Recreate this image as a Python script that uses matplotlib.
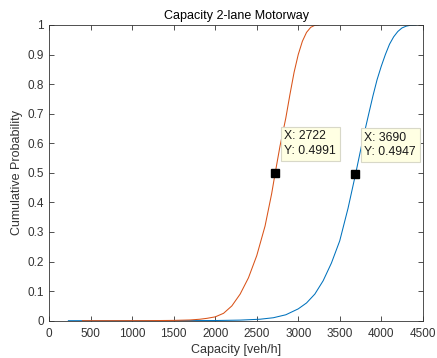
import matplotlib
matplotlib.use("Agg")
import matplotlib.pyplot as plt

# Cumulative capacity distribution, 2-lane motorway (red curve)
red_x = [400, 800, 1200, 1500, 1700, 1816, 1900, 2000, 2100, 2200, 2300, 2400,
         2500, 2600, 2680, 2722, 2780, 2850, 2900, 2950, 3000, 3050, 3100,
         3150, 3200, 3250]
red_y = [0.0, 0.0, 0.0002, 0.001, 0.0025, 0.005, 0.008, 0.013, 0.025, 0.05,
         0.09, 0.145, 0.22, 0.32, 0.43, 0.4991, 0.59, 0.685, 0.765, 0.84,
         0.90, 0.945, 0.975, 0.992, 0.999, 1.0]

# Cumulative capacity distribution (blue curve)
blue_x = [230, 800, 1500, 2000, 2300, 2540, 2700, 2850, 3000, 3100, 3200, 3300,
          3400, 3500, 3600, 3690, 3780, 3850, 3900, 3950, 4000, 4050, 4100,
          4150, 4200, 4250, 4300, 4350, 4420]
blue_y = [0.0, 0.0, 0.0001, 0.0006, 0.002, 0.005, 0.01, 0.02, 0.04, 0.06, 0.09,
          0.135, 0.195, 0.27, 0.38, 0.4947, 0.615, 0.70, 0.76, 0.815, 0.86,
          0.90, 0.935, 0.96, 0.978, 0.99, 0.996, 0.999, 1.0]

# Data tips (x, y)
tips = [(2722, 0.4991), (3690, 0.4947)]

x_ticks = list(range(0, 4501, 500))
y_ticks = [i / 10 for i in range(11)]
y_tick_labels = ["0", "0.1", "0.2", "0.3", "0.4", "0.5", "0.6", "0.7", "0.8", "0.9", "1"]

plt.rcParams["font.family"] = ["Liberation Sans", "DejaVu Sans"]
axis_col = "#333333"

fig = plt.figure(figsize=(4.37, 3.58), dpi=100)
ax = fig.add_axes([0.1128, 0.1042, 0.8545, 0.8260])

ax.plot(blue_x, blue_y, color="#0072BD", lw=0.75)
ax.plot(red_x, red_y, color="#D95319", lw=0.75)

for tx, ty in tips:
    ax.plot([tx], [ty], marker="s", color="black", markersize=5.8, linestyle="none")
    ax.annotate(f"X: {tx}\nY: {ty:.4f}", xy=(tx, ty), xytext=(9, 16),
                textcoords="offset pixels", ha="left", va="bottom",
                fontsize=8.8, color="#1a1a1a", linespacing=1.3,
                bbox=dict(boxstyle="square,pad=0.3", fc="#FFFFE3", ec="#d8d8c8", lw=0.8))

ax.set_xlim(0, 4500)
ax.set_ylim(0, 1)
ax.set_xticks(x_ticks)
ax.set_yticks(y_ticks)
ax.set_yticklabels(y_tick_labels)
ax.tick_params(direction="in", length=3.5, width=0.6, colors=axis_col,
               labelsize=8.5, top=True, right=True)
ax.tick_params(axis="x", pad=5)
ax.tick_params(axis="y", pad=4)
for s in ax.spines.values():
    s.set_color(axis_col)
    s.set_linewidth(0.6)

ax.set_title("Capacity 2-lane Motorway", fontsize=9, color="black", pad=4)
ax.set_xlabel("Capacity [veh/h]", fontsize=9, color=axis_col, labelpad=3)
ax.set_ylabel("Cumulative Probability", fontsize=9, color=axis_col, labelpad=3)

fig.savefig("out.png", dpi=100)
